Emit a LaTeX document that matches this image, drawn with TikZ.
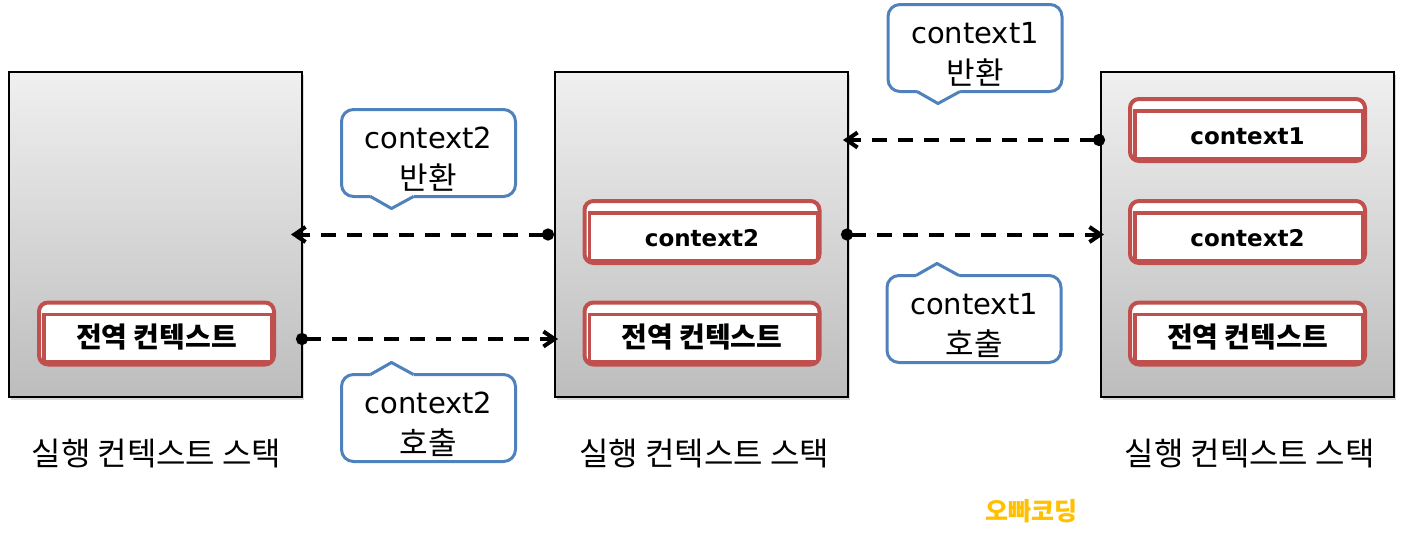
\documentclass[tikz,border=0pt]{standalone}
\usepackage{fontspec}
\setmainfont{DejaVu Sans}
\newfontfamily\kr{Noto Sans CJK KR}
\usetikzlibrary{arrows.meta, shadows}
\definecolor{ctxred}{HTML}{C0504D}
\definecolor{bubbleblue}{HTML}{4F81BD}
\definecolor{brandgold}{HTML}{FFC000}
\tikzset{
  stack/.style={draw, line width=2pt, top color=gray!12, bottom color=gray!52,
    minimum width=293pt, minimum height=325pt,
    drop shadow={shadow xshift=2pt, shadow yshift=-3pt, opacity=0.3}},
  ctx/.style={draw=ctxred, line width=4pt, rounded corners=9pt, fill=white,
    minimum width=235pt, minimum height=62pt, text height=28pt, text depth=0pt,
    font=\fontsize{23}{28}\selectfont\bfseries,
    path picture={\draw [ctxred, line width=3.5pt, sharp corners]
      ([shift={(5pt,2.5pt)}]path picture bounding box.south west) rectangle
      ([shift={(-2pt,-12pt)}]path picture bounding box.north east);}},
  bubble/.style={draw=bubbleblue, line width=3pt, rounded corners=12pt, fill=white,
    outer sep=0pt, minimum width=174pt, minimum height=87pt, align=center,
    font=\fontsize{29}{41}\selectfont},
  bubbletail/.style={draw=bubbleblue, line width=3pt, line join=round},
  callarrow/.style={line width=4pt, dash pattern=on 15pt off 11pt,
    {Circle[length=12pt]}-{Straight Barb[length=11pt,width=15pt]}},
  stacktitle/.style={font=\kr\fontsize{32}{36}\selectfont},
}
\newcommand{\StackBox}[3]{
  \node [stack] (#1) at (#2, #3) {};
}
\newcommand{\ContextBox}[4]{
  \node [ctx] (#1) at (#3, #4) {#2};
}
\newcommand{\Bubble}[4]{
  \node [bubble] (#1) at (#3, #4) {\rule{0pt}{34pt}#2};
}
\newcommand{\TailDown}[1]{
  \fill [white] ([xshift=-58pt,yshift=3pt]#1.south) -- ([xshift=-58pt]#1.south)
    -- ([xshift=-37pt,yshift=-12pt]#1.south) -- ([xshift=-15pt]#1.south)
    -- ([xshift=-15pt,yshift=3pt]#1.south) -- cycle;
  \draw [bubbletail] ([xshift=-58pt]#1.south) -- ([xshift=-37pt,yshift=-12pt]#1.south) -- ([xshift=-15pt]#1.south);
}
\newcommand{\TailUp}[1]{
  \fill [white] ([xshift=-58pt,yshift=-3pt]#1.north) -- ([xshift=-58pt]#1.north)
    -- ([xshift=-37pt,yshift=12pt]#1.north) -- ([xshift=-15pt]#1.north)
    -- ([xshift=-15pt,yshift=-3pt]#1.north) -- cycle;
  \draw [bubbletail] ([xshift=-58pt]#1.north) -- ([xshift=-37pt,yshift=12pt]#1.north) -- ([xshift=-15pt]#1.north);
}
\newcommand{\CallArrow}[2]{
  \draw [callarrow] (#1) -- (#2);
}
\newcommand{\Global}{{\kr\fontsize{28}{28}\selectfont 전역 컨텍스트}}
\newcommand{\Ko}[1]{{\kr\fontsize{31}{41}\selectfont #1}}
\begin{document}
\begin{tikzpicture}[x=1pt, y=-1pt]
  \useasboundingbox (0,0) rectangle (1403,538);

  % three stacks
  \StackBox{stackA}{155.5}{234.5}
  \StackBox{stackB}{701.5}{234.5}
  \StackBox{stackC}{1247.5}{234.5}

  % stack A: global only
  \ContextBox{globA}{\Global}{156.5}{333.5}

  % stack B: global + context2
  \ContextBox{ctxBtwo}{context2}{702}{232}
  \ContextBox{globB}{\Global}{702}{333.5}

  % stack C: global + context2 + context1
  \ContextBox{ctxCone}{context1}{1247.5}{130}
  \ContextBox{ctxCtwo}{context2}{1247.5}{232}
  \ContextBox{globC}{\Global}{1247.5}{333.5}

  % calls and returns
  \CallArrow{[xshift=-7pt,yshift=-104.5pt]stackA.east}{[xshift=4pt,yshift=-104.5pt]stackB.west}
  \CallArrow{[xshift=-8pt]stackB.east}{[xshift=4pt]stackC.west}
  \CallArrow{[xshift=5pt,yshift=94.5pt]stackC.west}{[xshift=-6pt,yshift=94.5pt]stackB.east}
  \CallArrow{stackB.west}{[xshift=-12pt]stackA.east}

  % bubbles
  \Bubble{retOne}{context1\\\Ko{반환}}{975}{48}
  \TailDown{retOne}
  \Bubble{retTwo}{context2\\\Ko{반환}}{428.5}{153}
  \TailDown{retTwo}
  \Bubble{callTwo}{context2\\\Ko{호출}}{428.5}{418}
  \TailUp{callTwo}
  \Bubble{callOne}{context1\\\Ko{호출}}{974}{319}
  \TailUp{callOne}

  % titles
  \node [stacktitle] (titleA) at (156.5, 453.5) {실행 컨텍스트 스택};
  \node [stacktitle] (titleB) at (704, 453.5) {실행 컨텍스트 스택};
  \node [stacktitle] (titleC) at (1249.5, 453.5) {실행 컨텍스트 스택};

  \node [text=brandgold, font=\kr\fontsize{25}{30}\selectfont\bfseries] (brand) at (1031, 511) {오빠코딩};

\end{tikzpicture}
\end{document}
